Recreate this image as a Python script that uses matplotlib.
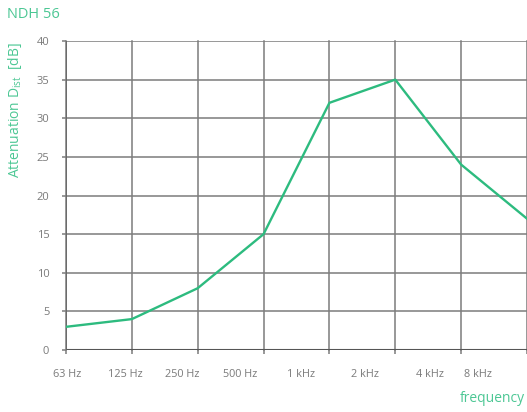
import matplotlib
matplotlib.use("Agg")
import matplotlib.pyplot as plt
from matplotlib.ticker import FixedLocator

# Attenuation per octave band
bands = ["63 Hz", "125 Hz", "250 Hz", "500 Hz", "1 kHz", "2 kHz", "4 kHz", "8 kHz"]
attenuation = [3, 4, 8, 15, 32, 35, 24, 17]
label_pos = [0.02, 0.90, 1.76, 2.64, 3.57, 4.54, 5.52, 6.25]
y_ticks = [0, 5, 10, 15, 20, 25, 30, 35, 40]

GREEN = "#2dbb7f"
LABEL_GREEN = "#4cc794"
GRID = "#7c7c7c"
TEXT = "#7a7a7a"

plt.rcParams["font.family"] = ["Open Sans", "DejaVu Sans"]

fig = plt.figure(figsize=(5.27, 4.12), dpi=100)
ax = fig.add_axes([66 / 527, 62 / 412, 461 / 527, 309 / 412])

x = list(range(len(attenuation)))
ax.plot(x, attenuation, color=GREEN, lw=1.7, zorder=3, solid_joinstyle="round")

ax.set_xlim(0, len(attenuation) - 1)
ax.set_ylim(0, 40)

# grid on octave lines
ax.xaxis.set_minor_locator(FixedLocator(x))
ax.set_xticks(label_pos)
ax.set_xticklabels(bands)
ax.set_yticks(y_ticks)
ax.grid(False)
for xi in x:
    ax.axvline(xi, color=GRID, lw=1.1, zorder=1, clip_on=False)
for yi in y_ticks:
    ax.axhline(yi, color=GRID, lw=1.1, zorder=1)
ax.axhline(0, color="#555555", lw=1.5, zorder=2)
ax.axvline(0, color="#666666", lw=1.3, zorder=2)

for s in ax.spines.values():
    s.set_visible(False)

ax.tick_params(axis="x", which="major", length=0, pad=14, labelsize=7.8, labelcolor=TEXT)
ax.tick_params(axis="x", which="minor", length=3, width=1.1, color=GRID)
ax.tick_params(axis="y", length=3, width=1.1, color=GRID, pad=9, labelsize=8, labelcolor=TEXT)

fig.text(7 / 527, 1 - 14 / 412, "NDH 56", color=LABEL_GREEN, fontsize=10.5, va="center", ha="left")
fig.text(15 / 527, 1 - 110 / 412, r"Attenuation D$_{\mathregular{ist}}$  [dB]",
         color=LABEL_GREEN, fontsize=10, rotation=90, va="center", ha="center")
fig.text(525 / 527, 1 - 398 / 412, "frequency", color=LABEL_GREEN, fontsize=10,
         va="center", ha="right")

fig.savefig("out.png", dpi=100)
